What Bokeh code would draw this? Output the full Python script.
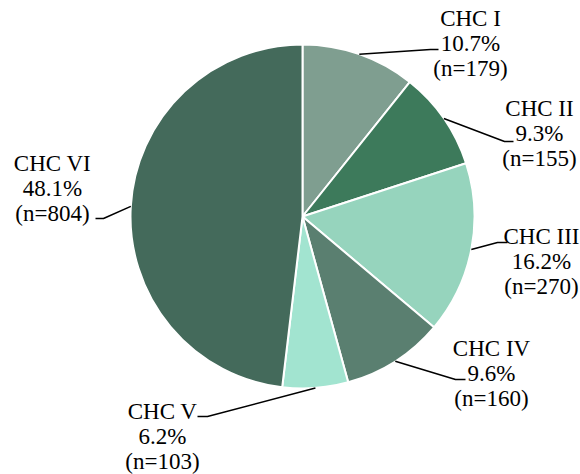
import math
from bokeh.plotting import figure
from bokeh.models import Range1d, ColumnDataSource
from bokeh.core.properties import value
from bokeh.embed import file_html
from bokeh.resources import INLINE

# ---- data ----
categories = ["CHC I", "CHC II", "CHC III", "CHC IV", "CHC V", "CHC VI"]
counts = [179, 155, 270, 160, 103, 804]
percents = [10.7, 9.3, 16.2, 9.6, 6.2, 48.1]
colors = ["#7f9e90", "#3d7a5b", "#96d4bd", "#5a7f70", "#a2e4d0", "#446a5b"]

# ---- layout (pixels of the picture) ----
W, H = 580, 474
CX, CY, R = 302, 216, 172
label_centers = [(470, 43), (539, 133), (541, 261), (491, 373), (162, 436), (52, 188)]
leader_elbows = [(430, 49), (504, 141), (497, 242), (455, 379), (207, 416), (103, 218)]
leader_ends = [(438, 49), (513, 141), (507, 242), (465, 379), (197, 416), (95, 218)]
LINE_SP = 25
FONT = "Liberation Serif"
FSIZE = "23px"


def sy(y):
    return -y


p = figure(width=W, height=H, output_backend="svg", toolbar_location=None,
           x_range=Range1d(0, W), y_range=Range1d(-H, 0),
           x_axis_type=None, y_axis_type=None, min_border=0,
           outline_line_color=None, background_fill_color="white",
           border_fill_color="white")
p.grid.visible = False

total = sum(counts)
starts, ends, mids = [], [], []
cum = 0.0
for c in counts:
    f0 = cum / total
    cum += c
    f1 = cum / total
    starts.append(math.pi / 2 - 2 * math.pi * f0)
    ends.append(math.pi / 2 - 2 * math.pi * f1)
    mids.append(math.pi / 2 - 2 * math.pi * (f0 + f1) / 2)

src = ColumnDataSource(dict(start=starts, end=ends, color=colors, cat=categories))
p.wedge(x=CX, y=sy(CY), radius=R, start_angle="start", end_angle="end",
        direction="clock", fill_color="color", line_color="white", line_width=2,
        source=src)

# leader lines
for i in range(len(counts)):
    ax = CX + R * math.cos(mids[i])
    ay = CY - R * math.sin(mids[i])
    ex, ey = leader_elbows[i]
    tx, ty = leader_ends[i]
    p.line([ax, ex, tx], [sy(ay), sy(ey), sy(ty)], line_color="black", line_width=1.5)

# labels
xs, ys, texts = [], [], []
for i, cat in enumerate(categories):
    lx, ly = label_centers[i]
    lines = [cat, f"{percents[i]:.1f}%", f"(n={counts[i]})"]
    for k, t in enumerate(lines):
        xs.append(lx)
        ys.append(sy(ly + (k - 1) * LINE_SP))
        texts.append(t)

p.text(x=xs, y=ys, text=texts, text_align="center", text_baseline="middle",
       text_font=value(FONT), text_font_size=FSIZE, text_color="black")

open("out.html", "w").write(file_html(p, INLINE))
